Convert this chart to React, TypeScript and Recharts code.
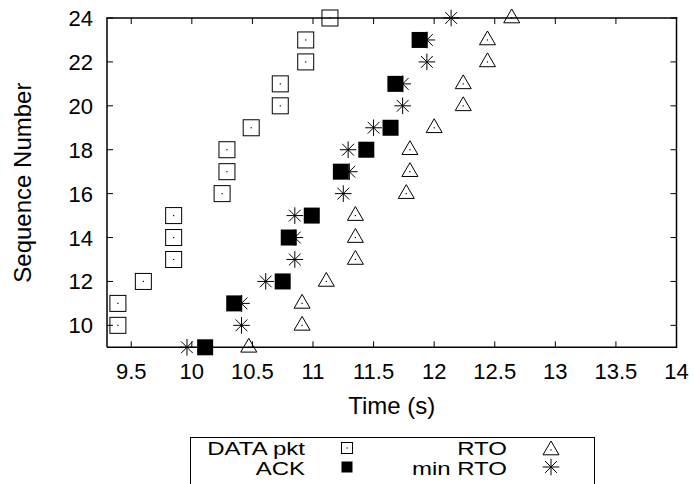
import React from 'react';
import { ScatterChart, Scatter, XAxis, YAxis, Label } from 'recharts';

// Sequence numbers and event times (s) for each trace
const dataPktSeq = [10, 11, 12, 13, 14, 15, 16, 17, 18, 19, 20, 21, 22, 23, 24];
const dataPktTime = [9.39, 9.39, 9.6, 9.85, 9.85, 9.85, 10.25, 10.29, 10.29, 10.49, 10.73, 10.73, 10.94, 10.94, 11.14];

const ackSeq = [9, 11, 12, 14, 15, 17, 18, 19, 21, 23];
const ackTime = [10.11, 10.35, 10.75, 10.8, 10.99, 11.23, 11.44, 11.64, 11.68, 11.88];

const rtoSeq = [9, 10, 11, 12, 13, 14, 15, 16, 17, 18, 19, 20, 21, 22, 23, 24];
const rtoTime = [10.47, 10.91, 10.91, 11.11, 11.35, 11.35, 11.35, 11.77, 11.8, 11.8, 12.0, 12.24, 12.24, 12.44, 12.44, 12.64];

const minRtoSeq = [9, 10, 11, 12, 13, 14, 15, 16, 17, 18, 19, 20, 21, 22, 23, 24];
const minRtoTime = [9.96, 10.41, 10.41, 10.61, 10.85, 10.85, 10.85, 11.25, 11.3, 11.29, 11.5, 11.74, 11.74, 11.94, 11.94, 12.14];

const xTicks = [9.5, 10, 10.5, 11, 11.5, 12, 12.5, 13, 13.5, 14];
const yTicks = [10, 12, 14, 16, 18, 20, 22, 24];
const xDomain = [9.3, 14];
const yDomain = [9, 24];

const FONT = '"Liberation Sans", Arial, Helvetica, sans-serif';
const FS = 22;
const TITLE_FS = 24;
const TICK_LEN = 6;

const W = 694;
const H = 484;
const PLOT = { left: 107, top: 18, right: 17.5, bottom: 136.7 };
const X_AXIS_H = 30;
const Y_AXIS_W = 60;

const toPoints = (times: number[], seqs: number[]) => times.map((t, i) => ({ t, seq: seqs[i] }));

const dataPkts = toPoints(dataPktTime, dataPktSeq);
const acks = toPoints(ackTime, ackSeq);
const rtos = toPoints(rtoTime, rtoSeq);
const minRtos = toPoints(minRtoTime, minRtoSeq);

// Marker glyphs
const HollowSquare = ({ cx, cy, side }: any) => {
  const s = side ?? 16;
  const h = s / 2;
  return (
    <g>
      <rect x={cx - h} y={cy - h} width={s} height={s} fill="none" stroke="#000" strokeWidth={1} />
      <rect x={cx - 0.6} y={cy - 0.6} width={1.2} height={1.2} fill="#000" />
    </g>
  );
};

const FilledSquare = ({ cx, cy, side }: any) => {
  const s = side ?? 16;
  const h = s / 2;
  return <rect x={cx - h} y={cy - h} width={s} height={s} fill="#000" />;
};

const Triangle = ({ cx, cy }: any) => (
  <g>
    <path d={`M${cx},${cy - 9} L${cx + 8},${cy + 4.8} L${cx - 8},${cy + 4.8} Z`} fill="none" stroke="#000" strokeWidth={1} />
    <rect x={cx - 0.6} y={cy - 0.6} width={1.2} height={1.2} fill="#000" />
  </g>
);

const Asterisk = ({ cx, cy }: any) => {
  const r = 8.3;
  const d = 5.9;
  return (
    <g stroke="#000" strokeWidth={1}>
      <line x1={cx - r} y1={cy} x2={cx + r} y2={cy} />
      <line x1={cx} y1={cy - r} x2={cx} y2={cy + r} />
      <line x1={cx - d} y1={cy - d} x2={cx + d} y2={cy + d} />
      <line x1={cx - d} y1={cy + d} x2={cx + d} y2={cy - d} />
    </g>
  );
};

// Bottom axis: inward tick mark plus label below the frame
const BottomTick = ({ x, y, payload }: any) => (
  <g>
    <rect x={x - 0.5} y={y - TICK_LEN} width={1} height={TICK_LEN} fill="#000" />
    <text x={x} y={y + 32} textAnchor="middle" fontFamily={FONT} fontSize={FS} fill="#000">
      {payload.value}
    </text>
  </g>
);

// Left axis: inward tick mark plus label left of the frame
const LeftTick = ({ x, y, payload }: any) => (
  <g>
    <rect x={x} y={y - 0.5} width={TICK_LEN} height={1} fill="#000" />
    <text x={x - 14} y={y + 8} textAnchor="end" fontFamily={FONT} fontSize={FS} fill="#000">
      {payload.value}
    </text>
  </g>
);

const XTitle = ({ viewBox }: any) => (
  <text
    x={viewBox.x + viewBox.width / 2}
    y={viewBox.y + 67}
    textAnchor="middle"
    fontFamily={FONT}
    fontSize={TITLE_FS}
    fill="#000"
  >
    Time (s)
  </text>
);

const YTitle = ({ viewBox }: any) => {
  const x = viewBox.x - 15.5;
  const y = viewBox.y + viewBox.height / 2;
  return (
    <text
      x={x}
      y={y}
      transform={`rotate(-90, ${x}, ${y})`}
      textAnchor="middle"
      fontFamily={FONT}
      fontSize={TITLE_FS}
      fill="#000"
    >
      Sequence Number
    </text>
  );
};

// Linear maps matching the chart's plot area, used for the mirrored frame edges
const plotRight = W - PLOT.right;
const plotBottom = H - PLOT.bottom;
const scaleX = (v: number) => PLOT.left + ((v - xDomain[0]) / (xDomain[1] - xDomain[0])) * (plotRight - PLOT.left);
const scaleY = (v: number) => plotBottom - ((v - yDomain[0]) / (yDomain[1] - yDomain[0])) * (plotBottom - PLOT.top);

const legendRows = [
  { label: 'DATA pkt', kind: 'hollow' },
  { label: 'ACK', kind: 'filled' },
  { label: 'RTO', kind: 'triangle' },
  { label: 'min RTO', kind: 'asterisk' },
];

const Overlay = () => {
  const textEnd = [305, 507];
  const sampleX = [347, 551];
  const rowY = [455, 475];
  const sampleY = [448, 467];
  const left = scaleX(xDomain[0]);
  const right = scaleX(xDomain[1]);
  const top = scaleY(yDomain[1]);
  const bottom = scaleY(yDomain[0]);
  return (
    <svg width={W} height={H} style={{ position: 'absolute', left: 0, top: 0, pointerEvents: 'none' }}>
      {/* upper and right frame edges as solid bars, with inward ticks */}
      <rect x={left - 0.75} y={top - 0.75} width={right - left + 1.5} height={1.5} fill="#000" />
      <rect x={right - 0.75} y={top - 0.75} width={1.5} height={bottom - top + 1.5} fill="#000" />
      {xTicks.map((v) => (
        <rect key={`tx${v}`} x={scaleX(v) - 0.5} y={top} width={1} height={TICK_LEN} fill="#000" />
      ))}
      {yTicks.map((v) => (
        <rect key={`ty${v}`} x={right - TICK_LEN} y={scaleY(v) - 0.5} width={TICK_LEN} height={1} fill="#000" />
      ))}
      <rect x={190.5} y={437.5} width={404} height={80} fill="none" stroke="#000" strokeWidth={1} />
      {legendRows.map((r, i) => {
        const col = Math.floor(i / 2);
        const row = i % 2;
        const cx = sampleX[col];
        const cy = sampleY[row];
        let glyph = null;
        if (r.kind === 'hollow') glyph = <HollowSquare cx={cx} cy={cy} side={11} />;
        if (r.kind === 'filled') glyph = <FilledSquare cx={cx} cy={cy} side={11} />;
        if (r.kind === 'triangle') glyph = <Triangle cx={cx} cy={cy + 2} />;
        if (r.kind === 'asterisk') glyph = <Asterisk cx={cx} cy={cy} />;
        return (
          <g key={r.label}>
            <text
              transform={`translate(${textEnd[col]}, ${rowY[row]}) scale(1, 0.8)`}
              textAnchor="end"
              fontFamily={FONT}
              fontSize={24}
              fill="#000"
            >
              {r.label}
            </text>
            {glyph}
          </g>
        );
      })}
    </svg>
  );
};

const frameStroke = { stroke: '#000', strokeWidth: 1.5 };

export default function App() {
  return (
    <div style={{ position: 'absolute', left: 0, top: 0, width: W, height: H, background: '#fff' }}>
      <ScatterChart
        width={W}
        height={H}
        margin={{ top: PLOT.top, right: PLOT.right, bottom: PLOT.bottom - X_AXIS_H, left: PLOT.left - Y_AXIS_W }}
      >
        <XAxis
          xAxisId="bottom"
          type="number"
          dataKey="t"
          domain={xDomain}
          ticks={xTicks}
          interval={0}
          height={X_AXIS_H}
          tickSize={0}
          tickMargin={0}
          tickLine={false}
          tick={<BottomTick />}
          axisLine={frameStroke}
        >
          <Label content={<XTitle />} />
        </XAxis>
        <YAxis
          yAxisId="left"
          type="number"
          dataKey="seq"
          domain={yDomain}
          ticks={yTicks}
          interval={0}
          width={Y_AXIS_W}
          tickSize={0}
          tickMargin={0}
          tickLine={false}
          tick={<LeftTick />}
          axisLine={frameStroke}
        >
          <Label content={<YTitle />} />
        </YAxis>
        <Scatter name="DATA pkt" data={dataPkts} xAxisId="bottom" yAxisId="left" shape={HollowSquare} isAnimationActive={false} />
        <Scatter name="RTO" data={rtos} xAxisId="bottom" yAxisId="left" shape={Triangle} isAnimationActive={false} />
        <Scatter name="min RTO" data={minRtos} xAxisId="bottom" yAxisId="left" shape={Asterisk} isAnimationActive={false} />
        <Scatter name="ACK" data={acks} xAxisId="bottom" yAxisId="left" shape={FilledSquare} isAnimationActive={false} />
      </ScatterChart>
      <Overlay />
    </div>
  );
}
